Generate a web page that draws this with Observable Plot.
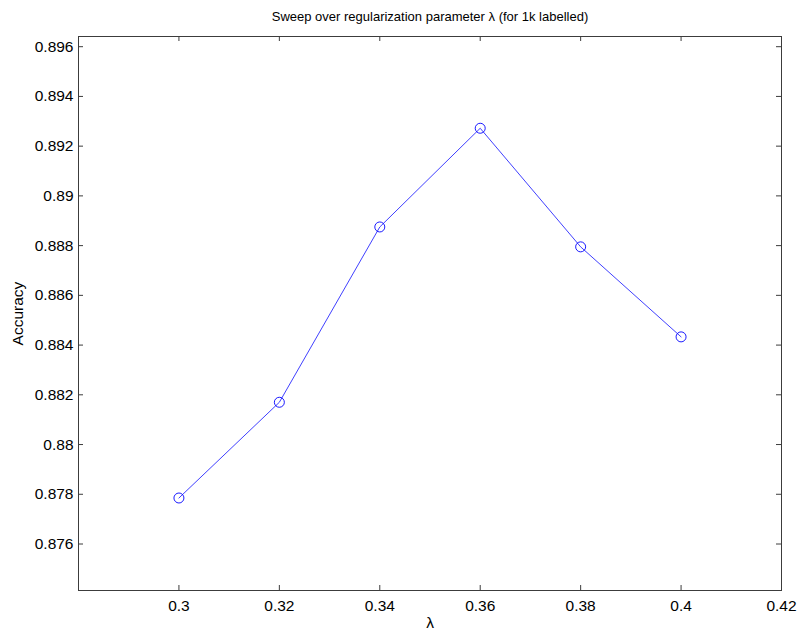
<!DOCTYPE html>
<html>
<head>
<meta charset="utf-8">
<script src="https://cdn.jsdelivr.net/npm/d3@7"></script>
<script src="https://cdn.jsdelivr.net/npm/@observablehq/plot@0.6"></script>
<style>
  html, body { margin: 0; padding: 0; background: #fff; }
  svg { display: block; }
</style>
</head>
<body>
<div id="chart"></div>
<script>
// Regularization sweep: accuracy for each value of lambda (1k labelled examples)
const lambdas = [0.30, 0.32, 0.34, 0.36, 0.38, 0.40];
const accuracy = [0.87785, 0.88170, 0.88875, 0.89272, 0.88795, 0.88433];

const xTicks = [0.30, 0.32, 0.34, 0.36, 0.38, 0.40, 0.42];
const xTickLabels = ["0.3", "0.32", "0.34", "0.36", "0.38", "0.4", "0.42"];
const yTicks = [0.876, 0.878, 0.880, 0.882, 0.884, 0.886, 0.888, 0.890, 0.892, 0.894, 0.896];
const yTickLabels = ["0.876", "0.878", "0.88", "0.882", "0.884", "0.886", "0.888", "0.89", "0.892", "0.894", "0.896"];

const titleText = "Sweep over regularization parameter λ (for 1k labelled)";
const xLabel = "λ";
const yLabel = "Accuracy";

const points = lambdas.map((l, i) => ({lambda: l, acc: accuracy[i]}));

const W = 798, H = 635;
const mL = 78, mR = 17, mT = 36, mB = 45;
const innerH = H - mT - mB;
const innerW = W - mL - mR;
const tickLen = 5;
const axisColor = "#3c3c3c";

const xLabelOf = d => xTickLabels[xTicks.indexOf(d)];
const yLabelOf = d => yTickLabels[yTicks.indexOf(d)];

const chart = Plot.plot({
  width: W,
  height: H,
  marginLeft: mL,
  marginRight: mR,
  marginTop: mT,
  marginBottom: mB,
  style: {fontFamily: "'Liberation Sans', Arial, Helvetica, sans-serif", fontSize: "15.5px", color: "#000", background: "#fff"},
  x: {domain: [0.28, 0.42]},
  y: {domain: [0.87413, 0.89641]},
  marks: [
    Plot.frame({stroke: axisColor, strokeWidth: 1}),
    // inward ticks on all four sides
    Plot.ruleX(xTicks, {x: d => d, insetTop: innerH - tickLen, stroke: axisColor}),
    Plot.ruleX(xTicks, {x: d => d, insetBottom: innerH - tickLen, stroke: axisColor}),
    Plot.ruleY(yTicks, {y: d => d, insetRight: innerW - tickLen, stroke: axisColor}),
    Plot.ruleY(yTicks, {y: d => d, insetLeft: innerW - tickLen, stroke: axisColor}),
    Plot.axisX({ticks: xTicks, tickSize: 0, tickPadding: 9, tickFormat: xLabelOf,
      label: xLabel, labelAnchor: "center", labelArrow: "none", labelOffset: 37}),
    Plot.axisY({ticks: yTicks, tickSize: 0, tickPadding: 5, tickFormat: yLabelOf,
      label: yLabel, labelAnchor: "center", labelArrow: "none", labelOffset: 67}),
    Plot.line(points, {x: "lambda", y: "acc", stroke: "#2a2aff", strokeWidth: 0.9}),
    Plot.dot(points, {x: "lambda", y: "acc", r: 5, stroke: "#0000ff", strokeWidth: 0.9, fill: "none"}),
    Plot.text([titleText], {frameAnchor: "top", dy: -25, fontSize: 13, fill: "#000"})
  ]
});

document.getElementById("chart").appendChild(chart);
</script>
</body>
</html>
